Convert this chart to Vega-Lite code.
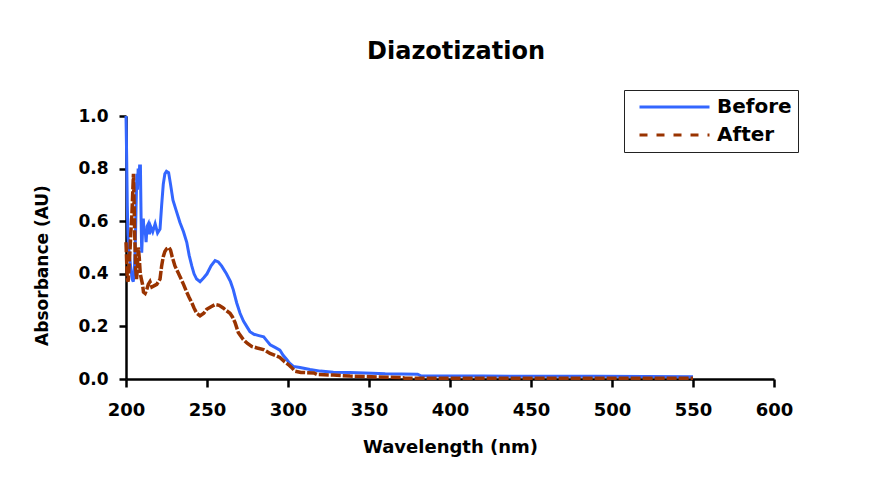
{
  "$schema": "https://vega.github.io/schema/vega-lite/v6.json",
  "width": 648,
  "height": 263,
  "autosize": {"type": "none"},
  "padding": {"left": 126, "top": 116, "right": 115, "bottom": 98},
  "background": "white",
  "title": {"text": "Diazotization", "font": "DejaVu Sans", "fontSize": 24, "fontWeight": "bold", "color": "black", "anchor": "middle", "baseline": "bottom", "offset": 2, "dx": 6},
  "datasets": {
    "spectra": [
      {"series": "Before", "wavelength": 200, "absorbance": 1.0},
      {"series": "Before", "wavelength": 200.4, "absorbance": 0.85},
      {"series": "Before", "wavelength": 200.8, "absorbance": 0.66},
      {"series": "Before", "wavelength": 201.2, "absorbance": 0.55},
      {"series": "Before", "wavelength": 201.6, "absorbance": 0.50},
      {"series": "Before", "wavelength": 202.3, "absorbance": 0.46},
      {"series": "Before", "wavelength": 203.0, "absorbance": 0.42},
      {"series": "Before", "wavelength": 203.8, "absorbance": 0.38},
      {"series": "Before", "wavelength": 204.5, "absorbance": 0.37},
      {"series": "Before", "wavelength": 205.2, "absorbance": 0.42},
      {"series": "Before", "wavelength": 205.7, "absorbance": 0.50},
      {"series": "Before", "wavelength": 206.2, "absorbance": 0.65},
      {"series": "Before", "wavelength": 206.7, "absorbance": 0.78},
      {"series": "Before", "wavelength": 207.1, "absorbance": 0.72},
      {"series": "Before", "wavelength": 207.5, "absorbance": 0.80},
      {"series": "Before", "wavelength": 208.0, "absorbance": 0.74},
      {"series": "Before", "wavelength": 208.4, "absorbance": 0.81},
      {"series": "Before", "wavelength": 208.9, "absorbance": 0.81},
      {"series": "Before", "wavelength": 209.3, "absorbance": 0.62},
      {"series": "Before", "wavelength": 209.7, "absorbance": 0.48},
      {"series": "Before", "wavelength": 210.2, "absorbance": 0.56},
      {"series": "Before", "wavelength": 210.7, "absorbance": 0.61},
      {"series": "Before", "wavelength": 211.2, "absorbance": 0.55},
      {"series": "Before", "wavelength": 211.8, "absorbance": 0.57},
      {"series": "Before", "wavelength": 212.4, "absorbance": 0.52},
      {"series": "Before", "wavelength": 213.0, "absorbance": 0.58},
      {"series": "Before", "wavelength": 213.8, "absorbance": 0.59},
      {"series": "Before", "wavelength": 214.5, "absorbance": 0.55},
      {"series": "Before", "wavelength": 215.2, "absorbance": 0.58},
      {"series": "Before", "wavelength": 216.5, "absorbance": 0.56},
      {"series": "Before", "wavelength": 218.0, "absorbance": 0.59},
      {"series": "Before", "wavelength": 219.5, "absorbance": 0.555},
      {"series": "Before", "wavelength": 221.0, "absorbance": 0.57},
      {"series": "Before", "wavelength": 222.0, "absorbance": 0.66},
      {"series": "Before", "wavelength": 223.0, "absorbance": 0.74},
      {"series": "Before", "wavelength": 224.0, "absorbance": 0.78},
      {"series": "Before", "wavelength": 225.0, "absorbance": 0.79},
      {"series": "Before", "wavelength": 226.3, "absorbance": 0.785},
      {"series": "Before", "wavelength": 227.5, "absorbance": 0.74},
      {"series": "Before", "wavelength": 229.0, "absorbance": 0.68},
      {"series": "Before", "wavelength": 231.0, "absorbance": 0.64},
      {"series": "Before", "wavelength": 233.3, "absorbance": 0.595},
      {"series": "Before", "wavelength": 235.5, "absorbance": 0.56},
      {"series": "Before", "wavelength": 237.5, "absorbance": 0.52},
      {"series": "Before", "wavelength": 239.0, "absorbance": 0.47},
      {"series": "Before", "wavelength": 240.6, "absorbance": 0.43},
      {"series": "Before", "wavelength": 242.0, "absorbance": 0.40},
      {"series": "Before", "wavelength": 243.6, "absorbance": 0.38},
      {"series": "Before", "wavelength": 245.7, "absorbance": 0.37},
      {"series": "Before", "wavelength": 248.0, "absorbance": 0.385},
      {"series": "Before", "wavelength": 250.0, "absorbance": 0.40},
      {"series": "Before", "wavelength": 252.5, "absorbance": 0.43},
      {"series": "Before", "wavelength": 255.0, "absorbance": 0.45},
      {"series": "Before", "wavelength": 257.0, "absorbance": 0.445},
      {"series": "Before", "wavelength": 259.0, "absorbance": 0.43},
      {"series": "Before", "wavelength": 262.0, "absorbance": 0.40},
      {"series": "Before", "wavelength": 264.5, "absorbance": 0.37},
      {"series": "Before", "wavelength": 266.2, "absorbance": 0.34},
      {"series": "Before", "wavelength": 268.3, "absorbance": 0.29},
      {"series": "Before", "wavelength": 270.4, "absorbance": 0.25},
      {"series": "Before", "wavelength": 272.5, "absorbance": 0.22},
      {"series": "Before", "wavelength": 274.5, "absorbance": 0.20},
      {"series": "Before", "wavelength": 276.5, "absorbance": 0.18},
      {"series": "Before", "wavelength": 279.0, "absorbance": 0.17},
      {"series": "Before", "wavelength": 282.0, "absorbance": 0.165},
      {"series": "Before", "wavelength": 285.0, "absorbance": 0.16},
      {"series": "Before", "wavelength": 287.0, "absorbance": 0.145},
      {"series": "Before", "wavelength": 289.0, "absorbance": 0.13},
      {"series": "Before", "wavelength": 292.0, "absorbance": 0.12},
      {"series": "Before", "wavelength": 295.0, "absorbance": 0.11},
      {"series": "Before", "wavelength": 297.0, "absorbance": 0.09},
      {"series": "Before", "wavelength": 299.2, "absorbance": 0.074},
      {"series": "Before", "wavelength": 301.0, "absorbance": 0.06},
      {"series": "Before", "wavelength": 303.3, "absorbance": 0.048},
      {"series": "Before", "wavelength": 307.4, "absorbance": 0.044},
      {"series": "Before", "wavelength": 313.6, "absorbance": 0.036},
      {"series": "Before", "wavelength": 320.0, "absorbance": 0.030},
      {"series": "Before", "wavelength": 328.0, "absorbance": 0.026},
      {"series": "Before", "wavelength": 338.0, "absorbance": 0.025},
      {"series": "Before", "wavelength": 352.0, "absorbance": 0.022},
      {"series": "Before", "wavelength": 360.0, "absorbance": 0.020},
      {"series": "Before", "wavelength": 380.0, "absorbance": 0.018},
      {"series": "Before", "wavelength": 382.0, "absorbance": 0.012},
      {"series": "Before", "wavelength": 420.0, "absorbance": 0.011},
      {"series": "Before", "wavelength": 490.0, "absorbance": 0.010},
      {"series": "Before", "wavelength": 550.0, "absorbance": 0.009},
      {"series": "After", "wavelength": 200, "absorbance": 0.52},
      {"series": "After", "wavelength": 200.4, "absorbance": 0.45},
      {"series": "After", "wavelength": 200.8, "absorbance": 0.38},
      {"series": "After", "wavelength": 201.3, "absorbance": 0.37},
      {"series": "After", "wavelength": 201.8, "absorbance": 0.42},
      {"series": "After", "wavelength": 202.4, "absorbance": 0.48},
      {"series": "After", "wavelength": 203.0, "absorbance": 0.56},
      {"series": "After", "wavelength": 203.6, "absorbance": 0.62},
      {"series": "After", "wavelength": 204.1, "absorbance": 0.70},
      {"series": "After", "wavelength": 204.6, "absorbance": 0.78},
      {"series": "After", "wavelength": 205.0, "absorbance": 0.66},
      {"series": "After", "wavelength": 205.5, "absorbance": 0.52},
      {"series": "After", "wavelength": 206.0, "absorbance": 0.42},
      {"series": "After", "wavelength": 206.5, "absorbance": 0.38},
      {"series": "After", "wavelength": 207.0, "absorbance": 0.42},
      {"series": "After", "wavelength": 207.6, "absorbance": 0.50},
      {"series": "After", "wavelength": 208.2, "absorbance": 0.46},
      {"series": "After", "wavelength": 208.8, "absorbance": 0.40},
      {"series": "After", "wavelength": 209.5, "absorbance": 0.38},
      {"series": "After", "wavelength": 210.2, "absorbance": 0.36},
      {"series": "After", "wavelength": 210.8, "absorbance": 0.33},
      {"series": "After", "wavelength": 211.8, "absorbance": 0.325},
      {"series": "After", "wavelength": 212.8, "absorbance": 0.34},
      {"series": "After", "wavelength": 213.8, "absorbance": 0.36},
      {"series": "After", "wavelength": 214.8, "absorbance": 0.37},
      {"series": "After", "wavelength": 216.0, "absorbance": 0.35},
      {"series": "After", "wavelength": 217.5, "absorbance": 0.355},
      {"series": "After", "wavelength": 219.0, "absorbance": 0.36},
      {"series": "After", "wavelength": 221.0, "absorbance": 0.38},
      {"series": "After", "wavelength": 222.0, "absorbance": 0.43},
      {"series": "After", "wavelength": 223.0, "absorbance": 0.465},
      {"series": "After", "wavelength": 224.0, "absorbance": 0.485},
      {"series": "After", "wavelength": 225.1, "absorbance": 0.495},
      {"series": "After", "wavelength": 226.5, "absorbance": 0.50},
      {"series": "After", "wavelength": 227.5, "absorbance": 0.49},
      {"series": "After", "wavelength": 228.5, "absorbance": 0.465},
      {"series": "After", "wavelength": 230.2, "absorbance": 0.43},
      {"series": "After", "wavelength": 233.3, "absorbance": 0.39},
      {"series": "After", "wavelength": 235.5, "absorbance": 0.36},
      {"series": "After", "wavelength": 237.5, "absorbance": 0.33},
      {"series": "After", "wavelength": 239.0, "absorbance": 0.31},
      {"series": "After", "wavelength": 240.6, "absorbance": 0.29},
      {"series": "After", "wavelength": 242.0, "absorbance": 0.27},
      {"series": "After", "wavelength": 243.6, "absorbance": 0.25},
      {"series": "After", "wavelength": 245.7, "absorbance": 0.24},
      {"series": "After", "wavelength": 248.0, "absorbance": 0.25},
      {"series": "After", "wavelength": 249.8, "absorbance": 0.265},
      {"series": "After", "wavelength": 252.5, "absorbance": 0.275},
      {"series": "After", "wavelength": 255.0, "absorbance": 0.283},
      {"series": "After", "wavelength": 257.5, "absorbance": 0.28},
      {"series": "After", "wavelength": 260.0, "absorbance": 0.27},
      {"series": "After", "wavelength": 262.0, "absorbance": 0.26},
      {"series": "After", "wavelength": 264.2, "absorbance": 0.25},
      {"series": "After", "wavelength": 265.8, "absorbance": 0.235},
      {"series": "After", "wavelength": 267.3, "absorbance": 0.215},
      {"series": "After", "wavelength": 269.3, "absorbance": 0.177},
      {"series": "After", "wavelength": 272.4, "absorbance": 0.15},
      {"series": "After", "wavelength": 275.0, "absorbance": 0.135},
      {"series": "After", "wavelength": 277.6, "absorbance": 0.124},
      {"series": "After", "wavelength": 281.0, "absorbance": 0.118},
      {"series": "After", "wavelength": 284.8, "absorbance": 0.112},
      {"series": "After", "wavelength": 288.9, "absorbance": 0.097},
      {"series": "After", "wavelength": 292.0, "absorbance": 0.09},
      {"series": "After", "wavelength": 295.0, "absorbance": 0.082},
      {"series": "After", "wavelength": 298.0, "absorbance": 0.065},
      {"series": "After", "wavelength": 300.2, "absorbance": 0.055},
      {"series": "After", "wavelength": 302.0, "absorbance": 0.045},
      {"series": "After", "wavelength": 304.3, "absorbance": 0.03},
      {"series": "After", "wavelength": 308.0, "absorbance": 0.025},
      {"series": "After", "wavelength": 311.5, "absorbance": 0.024},
      {"series": "After", "wavelength": 316.0, "absorbance": 0.023},
      {"series": "After", "wavelength": 318.0, "absorbance": 0.017},
      {"series": "After", "wavelength": 328.0, "absorbance": 0.015},
      {"series": "After", "wavelength": 338.3, "absorbance": 0.011},
      {"series": "After", "wavelength": 371.0, "absorbance": 0.005},
      {"series": "After", "wavelength": 372.0, "absorbance": 0.003},
      {"series": "After", "wavelength": 550.0, "absorbance": 0.003}
    ]
  },
  "data": {"name": "spectra"},
  "encoding": {
    "x": {
      "field": "wavelength", "type": "quantitative",
      "scale": {"domain": [200, 600], "nice": false, "zero": false},
      "axis": {
        "title": "Wavelength (nm)",
        "values": [200, 250, 300, 350, 400, 450, 500, 550, 600],
        "format": "d", "labelFlush": false, "labelOverlap": false,
        "labelFontSize": 18, "tickSize": 8, "labelPadding": 14,
        "titleFontSize": 18, "titleY": 59, "titleBaseline": "top"
      }
    },
    "y": {
      "field": "absorbance", "type": "quantitative",
      "scale": {"domain": [0, 1], "nice": false},
      "axis": {
        "title": "Absorbance (AU)",
        "values": [0, 0.2, 0.4, 0.6, 0.8, 1.0],
        "format": ".1f", "labelFlush": false, "labelOverlap": false,
        "labelFontSize": 17, "tickSize": 7, "labelPadding": 11,
        "titleFontSize": 17, "titleX": -75, "titleY": 149, "titleAngle": 270,
        "titleAlign": "center", "titleBaseline": "bottom"
      }
    },
    "color": {
      "field": "series", "type": "nominal",
      "scale": {"domain": ["Before", "After"], "range": ["#3366FF", "#993300"]},
      "legend": {
        "orient": "none", "legendX": 498, "legendY": -26, "title": null,
        "symbolType": "stroke", "symbolSize": 4900, "symbolStrokeWidth": 3,
        "clipHeight": 22, "rowPadding": 6, "padding": 6,
        "strokeColor": "#222222", "fillColor": "white",
        "labelFont": "DejaVu Sans", "labelFontSize": 20, "labelFontWeight": "bold", "labelColor": "black",
        "labelOffset": 6, "symbolOffset": 8, "labelLimit": 300,
        "encode": {"symbols": {"update": {"strokeDash": {"signal": "datum.value === 'After' ? [8, 9] : [1, 0]"}}}}
      }
    }
  },
  "layer": [
    {
      "transform": [{"filter": "datum.series === 'Before'"}],
      "mark": {"type": "line", "strokeWidth": 3, "clip": false}
    },
    {
      "transform": [{"filter": "datum.series === 'After'"}],
      "mark": {"type": "line", "strokeWidth": 3.5, "strokeDash": [10, 2], "clip": false}
    }
  ],
  "config": {
    "view": {"stroke": null},
    "font": "DejaVu Sans",
    "axis": {
      "grid": false, "domainColor": "black", "domainWidth": 2.5, "tickColor": "black", "tickWidth": 2.5,
      "labelFont": "DejaVu Sans", "labelFontWeight": "bold", "labelColor": "black",
      "titleFont": "DejaVu Sans", "titleFontWeight": "bold", "titleColor": "black"
    }
  }
}
